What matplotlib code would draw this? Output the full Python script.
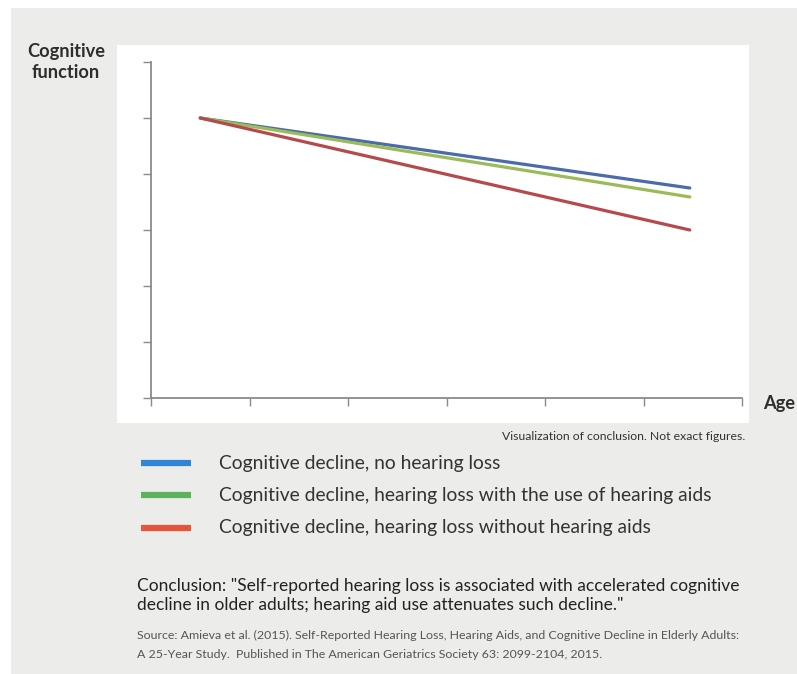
import matplotlib
matplotlib.use("Agg")
import matplotlib.pyplot as plt
from matplotlib.patches import Rectangle
from matplotlib.lines import Line2D

W, H = 797, 674
FONT = ["Lato", "DejaVu Sans"]

# ---- data (visualization of conclusion, not exact figures) ----
x_points = [0.5, 5.47]
series_names = [
    "Cognitive decline, no hearing loss",
    "Cognitive decline, hearing loss with the use of hearing aids",
    "Cognitive decline, hearing loss without hearing aids",
]
no_loss = [5.0, 3.75]
with_aids = [5.0, 3.59]
without_aids = [5.0, 3.0]
series_values = [no_loss, with_aids, without_aids]
line_colors = ["#4b6ca8", "#9bbb59", "#b54a4c"]
legend_colors = ["#2f86d6", "#5cb35e", "#e4553a"]
x_ticks = [0, 1, 2, 3, 4, 5, 6]
y_ticks = [0, 1, 2, 3, 4, 5, 6]

fig = plt.figure(figsize=(W / 100, H / 100), dpi=100)
fig.patch.set_facecolor("white")


def fx(x):
    return x / W


def fy(y):
    return 1 - y / H


# gray panel and white plot area
fig.add_artist(Rectangle((fx(11), fy(674)), (797 - 11) / W, (674 - 8) / H,
                         transform=fig.transFigure, facecolor="#ecedeb",
                         edgecolor="none", zorder=0))
fig.add_artist(Rectangle((fx(117), fy(423)), (749 - 117) / W, (423 - 45) / H,
                         transform=fig.transFigure, facecolor="white",
                         edgecolor="none", zorder=0.5))

ax = fig.add_axes([fx(151), fy(398), (742 - 151) / W, (398 - 62) / H])
ax.set_facecolor("none")
ax.set_zorder(2)
for vals, c in zip(series_values, line_colors):
    ax.plot(x_points, vals, color=c, lw=2.3, solid_capstyle="round")
ax.set_xlim(0, 6)
ax.set_ylim(0, 6)
ax.set_xticks(x_ticks)
ax.set_yticks(y_ticks)
ax.set_xticklabels([])
ax.set_yticklabels([])
for s in ["top", "right"]:
    ax.spines[s].set_visible(False)
for s in ["left", "bottom"]:
    ax.spines[s].set_color("#8a8a8a")
    ax.spines[s].set_linewidth(1.3)
ax.tick_params(axis="both", length=6, width=1.0, color="#8a8a8a", direction="out")

fig.canvas.draw()
renderer = fig.canvas.get_renderer()


def fit(t, target):
    for _ in range(3):
        w = t.get_window_extent(renderer).width
        t.set_fontsize(t.get_fontsize() * target / w)


txt_color = "#2e2e2e"
t1 = fig.text(fx(66), fy(52), "Cognitive", ha="center", va="center",
              family=FONT, fontsize=13, color=txt_color, weight="bold")
fit(t1, 78)
t2 = fig.text(fx(66), fy(73), "function", ha="center", va="center",
              family=FONT, fontsize=t1.get_fontsize(), color=txt_color, weight="bold")
ta = fig.text(fx(763), fy(403), "Age", ha="left", va="center",
              family=FONT, fontsize=t1.get_fontsize(), color=txt_color, weight="bold")

tv = fig.text(fx(745), fy(437), "Visualization of conclusion. Not exact figures.",
              ha="right", va="center", family=FONT, fontsize=7, color="#333333")
fit(tv, 245)

legend_y = [463, 495, 528]
for name, c, y in zip(series_names, legend_colors, legend_y):
    fig.add_artist(Line2D([fx(141), fx(191)], [fy(y), fy(y)], transform=fig.transFigure,
                          color=c, lw=4.5, solid_capstyle="butt"))
lt = []
for name, y in zip(series_names, legend_y):
    lt.append(fig.text(fx(219), fy(y), name, ha="left", va="center",
                       family=FONT, fontsize=12, color="#333333"))
fit(lt[1], 494)
for t in lt:
    t.set_fontsize(lt[1].get_fontsize())

c1 = fig.text(fx(137), fy(586),
              "Conclusion: \"Self-reported hearing loss is associated with accelerated cognitive",
              ha="left", va="center", family=FONT, fontsize=11, color="#222222")
fit(c1, 603)
fig.text(fx(137), fy(605),
         "decline in older adults; hearing aid use attenuates such decline.\"",
         ha="left", va="center", family=FONT, fontsize=c1.get_fontsize(), color="#222222")

s1 = fig.text(fx(137), fy(635),
              "Source: Amieva et al. (2015). Self-Reported Hearing Loss, Hearing Aids, and Cognitive Decline in Elderly Adults:",
              ha="left", va="center", family=FONT, fontsize=7, color="#555555")
fit(s1, 599)
fig.text(fx(137), fy(654),
         "A 25-Year Study.  Published in The American Geriatrics Society 63: 2099-2104, 2015.",
         ha="left", va="center", family=FONT, fontsize=s1.get_fontsize(), color="#555555")

fig.savefig("out.png", dpi=100, facecolor=fig.get_facecolor())
